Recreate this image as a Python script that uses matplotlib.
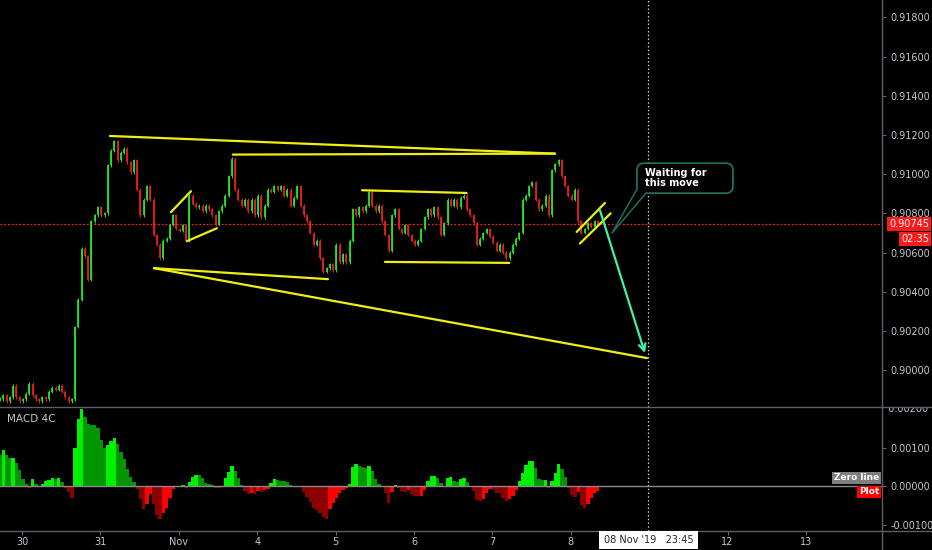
import numpy as np
import matplotlib
matplotlib.use('Agg')
import matplotlib.pyplot as plt
from matplotlib.lines import Line2D
from matplotlib.patches import FancyBboxPatch
from matplotlib.transforms import Bbox, TransformedBbox

# ---------------- data ----------------
day_labels = ['30', '31', 'Nov', '4', '5', '6', '7', '8', '', '12', '13']
bar_start = -0.28          # first bar, in trading-day units (0 = 30 Oct)
bar_step = 1 / 24          # hourly bars

closes = [
    0.8985, 0.8987, 0.8984, 0.8986, 0.8992, 0.8986, 0.8984, 0.8985, 0.8988, 0.8993,
    0.8987, 0.8985, 0.8984, 0.8986, 0.8985, 0.8989, 0.8991, 0.8990, 0.8992, 0.8989,
    0.8986, 0.8984, 0.8985,
    0.9022, 0.9036, 0.9062, 0.9058, 0.9046, 0.9076, 0.9079, 0.9083, 0.9079, 0.9080,
    0.91045, 0.9112, 0.9117, 0.9107, 0.9111, 0.9113, 0.9106, 0.9101, 0.9107, 0.9092,
    0.9079, 0.9087, 0.9094, 0.9087, 0.9069, 0.9064, 0.9057, 0.9066, 0.9067, 0.9074,
    0.9079, 0.9072, 0.9071, 0.9074, 0.9066, 0.9089, 0.9085, 0.9083, 0.9084, 0.9081,
    0.9084, 0.9082, 0.9079, 0.9074, 0.9081, 0.9084, 0.9089, 0.9099, 0.9108, 0.9092,
    0.9087, 0.9084, 0.9087, 0.9081, 0.9087, 0.9079, 0.9089, 0.9078, 0.9084, 0.9092,
    0.9091, 0.9094, 0.9092, 0.9094, 0.9089, 0.9092, 0.9084, 0.9088, 0.9094, 0.9084,
    0.9079, 0.9076, 0.9070, 0.9064, 0.9066, 0.9057, 0.9050, 0.9052, 0.9054, 0.9051,
    0.9064, 0.9055, 0.9059, 0.9055, 0.9066, 0.9082, 0.9079, 0.9083, 0.9081, 0.9084,
    0.9091, 0.9084, 0.9081, 0.9084, 0.9076, 0.9069, 0.9061, 0.9079, 0.9082, 0.9072,
    0.9070, 0.9074, 0.9069, 0.9066, 0.9064, 0.9066, 0.9072, 0.9078, 0.9082, 0.9079,
    0.9083, 0.9078, 0.9069, 0.9075, 0.9087, 0.9084, 0.9087, 0.9083, 0.9088, 0.9089,
    0.9082, 0.9079, 0.9075, 0.9064, 0.9067, 0.9070, 0.9072, 0.9068, 0.9065, 0.9061,
    0.9064, 0.9060, 0.9057, 0.9060, 0.9064, 0.9067, 0.9070, 0.9087, 0.9089, 0.9094,
    0.9096, 0.9087, 0.9082, 0.9084, 0.9089, 0.9079, 0.9102, 0.9105, 0.9107, 0.9099,
    0.9094, 0.9089, 0.9087, 0.9092, 0.9076, 0.9070, 0.9072, 0.9075, 0.9073, 0.9076,
    0.90745,
]

macd_hist_k = [  # histogram, in units of 0.001
    0.80, 0.93, 0.80, 0.72, 0.74, 0.60, 0.42, 0.18, 0.05, -0.03,
    0.18, 0.06, -0.02, 0.05, 0.15, 0.17, 0.21, 0.19, 0.21, 0.12,
    -0.05, -0.15, -0.30, 1.00, 1.75, 1.99, 1.80, 1.60, 1.58, 1.58,
    1.50, 1.20, 1.00, 1.06, 1.18, 1.25, 1.10, 0.90, 0.70, 0.45,
    0.25, 0.10, -0.08, -0.32, -0.58, -0.45, -0.20, -0.45, -0.75, -0.85,
    -0.70, -0.55, -0.30, -0.06, -0.01, 0.01, 0.03, -0.04, 0.12, 0.25,
    0.30, 0.29, 0.22, 0.08, 0.05, 0.04, -0.03, -0.05, -0.02, 0.22,
    0.38, 0.52, 0.40, 0.22, 0.04, -0.12, -0.20, -0.16, -0.20, -0.12,
    -0.14, -0.10, -0.08, 0.08, 0.20, 0.17, 0.15, 0.15, 0.12, 0.03,
    -0.02, 0.02, -0.02, -0.15, -0.28, -0.40, -0.55, -0.62, -0.70, -0.80,
    -0.85, -0.58, -0.42, -0.30, -0.17, -0.10, -0.05, 0.05, 0.50, 0.57,
    0.52, 0.50, 0.48, 0.52, 0.40, 0.18, 0.06, -0.02, -0.18, -0.42,
    -0.15, 0.04, -0.03, -0.13, -0.14, -0.10, -0.20, -0.25, -0.26, -0.24,
    -0.09, 0.13, 0.26, 0.28, 0.22, 0.08, 0.02, 0.22, 0.24, 0.15,
    0.10, 0.20, 0.22, 0.10, 0.02, -0.12, -0.35, -0.38, -0.33, -0.17,
    -0.06, -0.10, -0.17, -0.18, -0.30, -0.37, -0.33, -0.26, -0.10, 0.15,
    0.35, 0.55, 0.65, 0.66, 0.48, 0.20, 0.16, 0.17, -0.04, 0.15,
    0.35, 0.57, 0.45, 0.24, -0.05, -0.22, -0.28, -0.15, -0.48, -0.56,
    -0.45, -0.30, -0.17, -0.11,
]

price_ticks = [0.900, 0.902, 0.904, 0.906, 0.908, 0.910, 0.912, 0.914, 0.916, 0.918]
macd_ticks = [-0.001, 0.0, 0.001]
last_price = 0.90745
countdown = '02:35'
crosshair_day = 7 + 23.75 / 24
crosshair_label = "08 Nov '19   23:45"

# user drawings: ((day, price), (day, price))
trendlines = [
    ((1.122, 0.91195), (6.798, 0.91105)),
    ((2.690, 0.91100), (6.798, 0.91105)),
    ((1.684, 0.90520), (3.903, 0.90464)),
    ((1.684, 0.90520), (7.972, 0.90061)),
    ((1.900, 0.90806), (2.156, 0.90913)),
    ((2.105, 0.90658), (2.487, 0.90724)),
    ((4.337, 0.90918), (5.672, 0.90904)),
    ((4.630, 0.90552), (6.216, 0.90547)),
    ((7.075, 0.90705), (7.436, 0.90853)),
    ((7.117, 0.90646), (7.509, 0.90800)),
]
arrow_start = (7.372, 0.90816)
arrow_end = (7.946, 0.90087)
callout_text = 'Waiting for\nthis move'
callout_box = (7.844, 0.90903, 9.069, 0.91056)   # x0, y0, x1, y1
callout_tail = [(7.851, 0.90928), (7.526, 0.90699), (7.959, 0.90903)]

# ---------------- figure ----------------
W, H = 932, 550
fig = plt.figure(figsize=(W / 100, H / 100), dpi=100, facecolor='black')

def fx(px):
    return px / W

def fy(py):
    return 1 - py / H

AXIS_X = 882
SEP_Y = 407
BOT_Y = 531
ax = fig.add_axes([0, fy(SEP_Y), fx(AXIS_X), fy(0) - fy(SEP_Y)], facecolor='black')
axm = fig.add_axes([0, fy(BOT_Y), fx(AXIS_X), fy(SEP_Y) - fy(BOT_Y)], facecolor='black')

xlim = (-0.28, 10.97)
GREEN = '#22e622'
RED = '#ee1b1b'
TXT = '#c3c6cc'
GRID = '#5d606b'

# candles
c = np.array(closes)
n = len(c)
x = bar_start + bar_step * np.arange(n)
o = np.r_[c[0], c[:-1]]
lo = np.minimum(o, c)
hi = np.maximum(o, c)
hi = np.where(hi - lo < 0.00004, lo + 0.00004, hi)
cols = np.where(c >= o, GREEN, RED)
wick = 0.00007
ax.vlines(x, lo - wick, hi + wick, colors=cols, linewidth=0.7, zorder=3)
ax.vlines(x, lo, hi, colors=cols, linewidth=1.3, zorder=3)

ax.set_xlim(*xlim)
ax.set_ylim(0.898112, 0.918893)
for s in ax.spines.values():
    s.set_visible(False)
ax.set_xticks([])
ax.yaxis.tick_right()
ax.set_yticks(price_ticks)
ax.set_yticklabels([f'{t:.5f}' for t in price_ticks])
ax.tick_params(axis='y', colors=GRID, labelcolor=TXT, labelsize=7, length=3, pad=3)

# last price line
ax.axhline(last_price, color='#ff2020', lw=0.9, ls=(0, (1.5, 1.5)), zorder=2)

# trendlines
for (p0, p1) in trendlines:
    ax.plot([p0[0], p1[0]], [p0[1], p1[1]], color='#f0f010', lw=1.6,
            solid_capstyle='round', zorder=4)

# arrow
ax.annotate('', xy=arrow_end, xytext=arrow_start,
            arrowprops=dict(arrowstyle='->', color='#3cf5a0', lw=1.6,
                            mutation_scale=12, shrinkA=0, shrinkB=0), zorder=5)

# callout
bx0, by0, bx1, by1 = callout_box
ppx = (ax.get_ylim()[1] - ax.get_ylim()[0]) / SEP_Y
dpx = (xlim[1] - xlim[0]) / AXIS_X
box = FancyBboxPatch((bx0, by0), bx1 - bx0, by1 - by0,
                     boxstyle='round,pad=0,rounding_size=0.09',
                     mutation_aspect=ppx / dpx,
                     fc='black', ec='#1f6e62', lw=1.3, zorder=6)
ax.add_patch(box)
tx, ty = zip(*callout_tail)
ax.fill(tx, ty, color='black', zorder=6.5)
ax.plot(tx, ty, color='#1f6e62', lw=1.1, zorder=6.6)
ax.text(bx0 + 8 * dpx, by1 - 5 * ppx, callout_text, color='white', fontsize=7,
        fontweight='bold', va='top', ha='left', linespacing=0.95, zorder=7)

# crosshair
ax.axvline(crosshair_day, color='#cfcfcf', lw=0.9, ls=(0, (1.2, 1.8)), zorder=1)

# ---------------- MACD ----------------
hm = np.array(macd_hist_k) * 1e-3
prev = np.r_[hm[0], hm[:-1]]
mcols = []
for v, p in zip(hm, prev):
    if v >= 0:
        mcols.append('#00f000' if v > p else '#009600')
    else:
        mcols.append('#8c0000' if v < p else '#ff0000')
axm.bar(x, hm, width=bar_step * 1.02, color=mcols, linewidth=0, zorder=3)
axm.axhline(0, color='#8a8a8a', lw=1.0, zorder=4)
axm.axvline(crosshair_day, color='#cfcfcf', lw=0.9, ls=(0, (1.2, 1.8)), zorder=1)
axm.set_xlim(*xlim)
axm.set_ylim(-0.001154, 0.002051)
for s in axm.spines.values():
    s.set_visible(False)
axm.yaxis.tick_right()
axm.set_yticks(macd_ticks)
axm.set_yticklabels([f'{t:.5f}' for t in macd_ticks])
axm.tick_params(axis='y', colors=GRID, labelcolor=TXT, labelsize=7, length=3, pad=3)
axm.set_xticks(range(len(day_labels)))
axm.set_xticklabels(day_labels)
axm.tick_params(axis='x', colors=GRID, labelcolor=TXT, labelsize=7, length=3, pad=1.5)
axm.text(7 / AXIS_X, (BOT_Y - 419) / (BOT_Y - SEP_Y), 'MACD 4C', transform=axm.transAxes,
         color=TXT, fontsize=7.5, va='center', ha='left')

# clipped top MACD label
t2 = axm.text(1.0, 0.002, '  0.00200', transform=axm.get_yaxis_transform(),
              color=TXT, fontsize=7, va='center', ha='left')
t2.set_clip_box(TransformedBbox(Bbox.from_extents(fx(AXIS_X), fy(BOT_Y), 1, fy(SEP_Y)),
                                fig.transFigure))
t2.set_clip_on(True)

# separators / axis lines
for line in [
    Line2D([0, 1], [fy(SEP_Y)] * 2),
    Line2D([0, 1], [fy(BOT_Y)] * 2),
    Line2D([fx(AXIS_X)] * 2, [0, 1]),
]:
    line.set_transform(fig.transFigure)
    line.set_color(GRID)
    line.set_linewidth(1.0)
    fig.add_artist(line)

# price label / countdown
fig.text(fx(AXIS_X + 7), fy(224), f'{last_price:.5f}', color='white', fontsize=7,
         va='center', ha='left',
         bbox=dict(boxstyle='square,pad=0.25', fc='#ff1a1a', ec='none'))
fig.text(fx(929), fy(239), countdown, color='white', fontsize=7, va='center', ha='right',
         bbox=dict(boxstyle='square,pad=0.25', fc='#ff1a1a', ec='none'))

# indicator labels
fig.text(fx(879), fy(478), 'Zero line', color='white', fontsize=6.5, fontweight='bold',
         va='center', ha='right',
         bbox=dict(boxstyle='square,pad=0.2', fc='#7f7f7f', ec='none'))
fig.text(fx(879), fy(492), 'Plot', color='white', fontsize=6.5, fontweight='bold',
         va='center', ha='right',
         bbox=dict(boxstyle='square,pad=0.2', fc='#ff0000', ec='none'))

# crosshair date box
cx_px = ax.transData.transform((crosshair_day, last_price))[0]
fig.text(cx_px / W, fy(540), crosshair_label, color='#222222', fontsize=7,
         va='center', ha='center', zorder=10,
         bbox=dict(boxstyle='square,pad=0.45', fc='white', ec='none'))

fig.savefig('out.png', dpi=100, facecolor='black')
